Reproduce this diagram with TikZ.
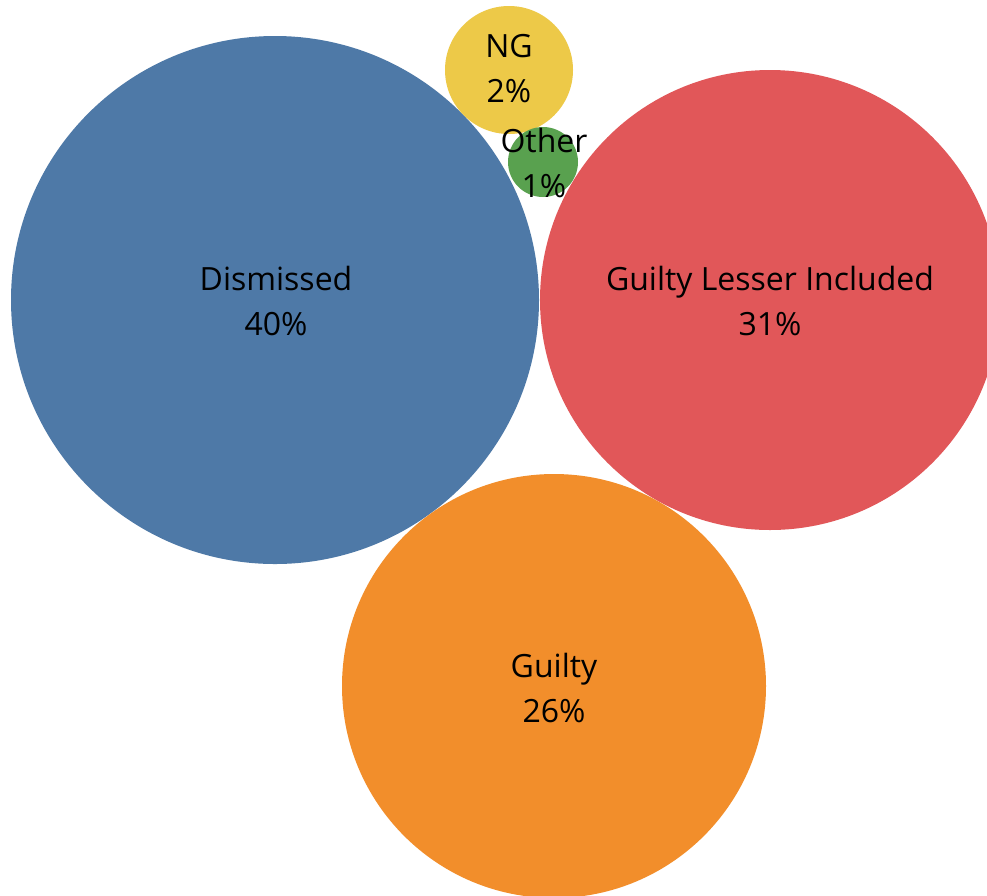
\documentclass[tikz,border=0pt]{standalone}
\usepackage{fontspec}
\setmainfont{Open Sans}
\definecolor{cblue}{HTML}{4E79A7}
\definecolor{cred}{HTML}{E15759}
\definecolor{corange}{HTML}{F28E2B}
\definecolor{cyellow}{HTML}{EDC948}
\definecolor{cgreen}{HTML}{59A14F}
\begin{document}
\begin{tikzpicture}[x=1pt,y=-1pt,
  bubble/.style={draw=none},
  lbl/.style={align=center,inner sep=0pt,text=black,font=\fontsize{32}{45}\selectfont}]
\useasboundingbox (0,0) rectangle (987,895);
\clip (0,0) rectangle (987,895);
\fill[white] (0,0) rectangle (987,895);
\fill[cblue,bubble] (275,300) circle[radius=264];
\fill[cred,bubble] (770,300) circle[radius=230];
\fill[cyellow,bubble] (509,70) circle[radius=64];
\fill[cgreen,bubble] (543,162) circle[radius=35];
\fill[corange,bubble] (554,686) circle[radius=212];
\node[lbl] (dis) at (276,301) {Dismissed\\40\%};
\node[lbl] (gli) at (770,301) {Guilty Lesser Included\\31\%};
\node[lbl] (ng) at (509,69) {NG\\2\%};
\node[lbl] (oth) at (544,163) {Other\\1\%};
\node[lbl] (gui) at (554,688) {Guilty\\26\%};
\end{tikzpicture}
\end{document}
